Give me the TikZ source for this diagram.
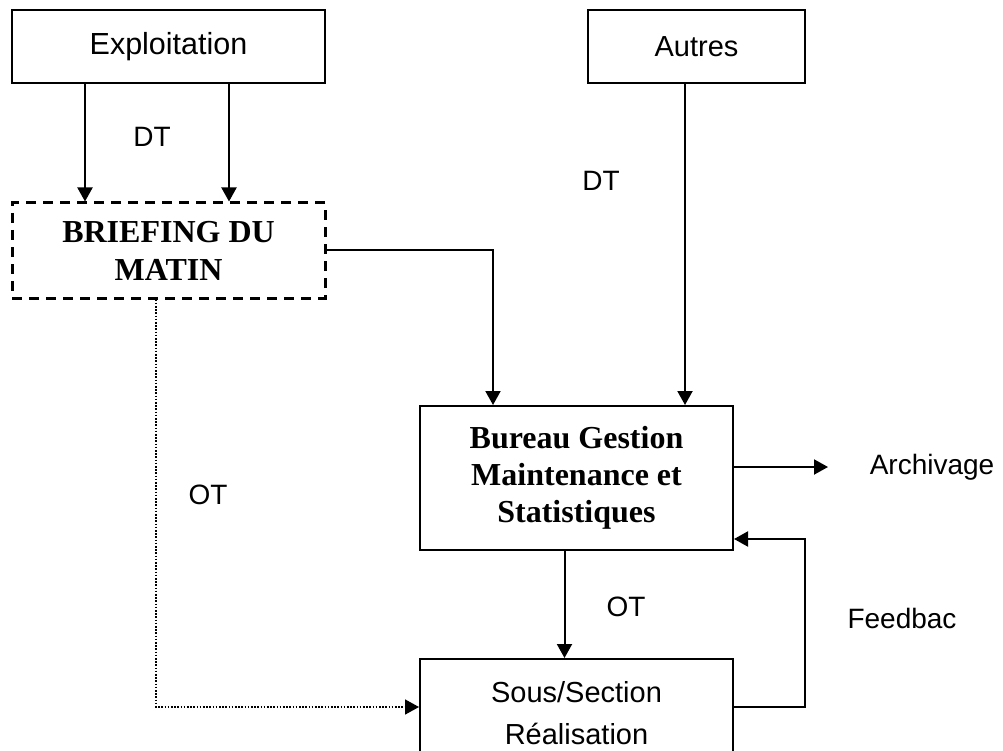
\documentclass[tikz,border=0pt]{standalone}
\usepackage{fontspec}
\setmainfont{Liberation Serif}
\newfontfamily\labelfont{Liberation Sans}
\usetikzlibrary{arrows.meta}
\begin{document}
\begin{tikzpicture}[x=1pt,y=-1pt,
  box/.style={draw,line width=2pt,inner sep=0pt,align=center},
  dashbox/.style={draw,line width=3pt,dash pattern=on 10pt off 7pt,inner sep=0pt,align=center},
  sanstext/.style={font=\labelfont\fontsize{29}{42}\selectfont},
  serifbold/.style={font=\bfseries\fontsize{32}{38}\selectfont},
  lbl/.style={font=\labelfont\fontsize{28}{34}\selectfont,inner sep=0pt},
  arr/.style={line width=2pt,-{Triangle[length=14pt,width=15pt]}},
  dotarr/.style={line width=1.6pt,dash pattern=on 1.6pt off 1.6pt,-{Triangle[length=14pt,width=15pt]}}]
\path[use as bounding box,clip] (0,0) rectangle (1003,751);

% boxes
\node[box,sanstext,font=\labelfont\fontsize{30.5}{36}\selectfont,minimum width=313pt,minimum height=73pt] (expl) at (168.5,46.5) {Exploitation};
\node[box,sanstext,minimum width=217pt,minimum height=73pt] (autres) at (696.5,46.5) {Autres};
\node[dashbox,serifbold,minimum width=313pt,minimum height=95pt] (brief) at (168.5,250.5) {BRIEFING DU\\MATIN};
\node[box,serifbold,minimum width=313pt,minimum height=144pt,font=\bfseries\fontsize{32}{37}\selectfont] (bureau) at (576.5,478) {Bureau Gestion\\Maintenance et\\Statistiques};
\node[box,sanstext,minimum width=313pt,minimum height=107pt,text depth=0pt] (sous) at (576.5,712.5) {Sous/Section\\Réalisation};

% labels
\node[lbl] (dt1) at (152,137) {DT};
\node[lbl] (dt2) at (601,181) {DT};
\node[lbl] (ot1) at (208,495) {OT};
\node[lbl] (ot2) at (626,607) {OT};
\node[lbl] (archiv) at (932,467) {Archivage};
\node[lbl] (feed) at (902,618) {Feedbac};

% helper points
\coordinate (e1) at ([xshift=-83.5pt]expl.south);
\coordinate (e2) at ([xshift=60.5pt]expl.south);
\coordinate (a1) at ([xshift=-11.5pt]autres.south);
\coordinate (b1) at ([xshift=-83.5pt]bureau.north);
\coordinate (b2) at ([xshift=-12pt]bureau.south);
\coordinate (d0) at ([xshift=-12.5pt]brief.south);
\coordinate (archend) at (828,467);
\coordinate (fb1) at (805,707);
\coordinate (fb2) at (805,539);

% connectors
\draw[arr] (e1) -- (e1 |- brief.north);
\draw[arr] (e2) -- (e2 |- brief.north);
\draw[arr] (brief.east) -| (b1);
\draw[arr] (a1) -- (a1 |- bureau.north);
\draw[arr] (bureau.east |- archend) -- (archend);
\draw[arr] (b2) -- (b2 |- sous.north);
\draw[arr] (sous.east |- fb1) -- (fb1) -- (fb2) -- (bureau.east |- fb2);
\draw[dotarr] (d0) |- (sous.west |- fb1);
\end{tikzpicture}
\end{document}
